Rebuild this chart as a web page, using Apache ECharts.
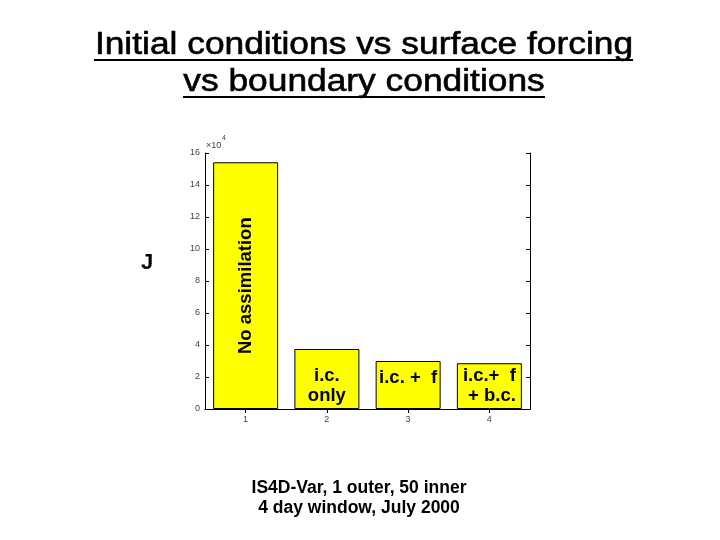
<!DOCTYPE html>
<html>
<head>
<meta charset="utf-8">
<script src="https://cdn.jsdelivr.net/npm/echarts@6/dist/echarts.min.js"></script>
<style>html,body{margin:0;padding:0;background:#fff;}#c{width:720px;height:540px;}</style>
</head>
<body>
<div id="c"></div>
<script>
var categories = ['1', '2', '3', '4'];
var jValues = [15.42, 3.75, 3.0, 2.86];
var barLabels = ['No assimilation', 'i.c.\nonly', 'i.c. +  f', 'i.c.+  f\n + b.c.'];
var yTicks = [0, 2, 4, 6, 8, 10, 12, 14, 16];
var titleLines = ['Initial conditions vs surface forcing', 'vs boundary conditions'];
var footLines = ['IS4D-Var, 1 outer, 50 inner', '4 day window, July 2000'];

var chart = echarts.init(document.getElementById('c'), null, {renderer: 'canvas'});

var labelStyles = [
  {show: true, position: 'inside', rotate: 90, fontSize: 18.5, fontWeight: 'bold', color: '#000', fontFamily: 'Liberation Sans'},
  {show: true, position: 'insideBottom', distance: 3, fontSize: 18.5, fontWeight: 'bold', color: '#000', lineHeight: 20, fontFamily: 'Liberation Sans'},
  {show: true, position: 'insideTop', distance: 7, fontSize: 18.5, fontWeight: 'bold', color: '#000', lineHeight: 20, fontFamily: 'Liberation Sans'},
  {show: true, position: 'insideBottom', distance: 3, fontSize: 18.5, fontWeight: 'bold', color: '#000', lineHeight: 20, align: 'center', fontFamily: 'Liberation Sans'}
];

var data = jValues.map(function (v, i) {
  var ls = Object.assign({}, labelStyles[i], {formatter: barLabels[i]});
  return {value: v, label: ls};
});

var axisFont = {fontSize: 9, color: '#444', fontFamily: 'Liberation Sans'};

var option = {
  animation: false,
  backgroundColor: '#fff',
  grid: {left: 205, right: 190, top: 153, bottom: 131},
  xAxis: [
    {type: 'category', data: categories, position: 'bottom',
     axisLine: {lineStyle: {color: '#000', width: 1}},
     axisTick: {show: true, inside: true, alignWithLabel: true, length: 4, lineStyle: {color: '#000'}},
     axisLabel: Object.assign({margin: 6}, axisFont)},
    {type: 'category', data: categories, position: 'top',
     axisLine: {show: true, lineStyle: {color: '#000', width: 1}},
     axisTick: {show: true, inside: true, alignWithLabel: true, length: 4, lineStyle: {color: '#000'}},
     axisLabel: {show: false}}
  ],
  yAxis: [
    {type: 'value', min: 0, max: 16, interval: 2, position: 'left',
     axisLine: {show: true, lineStyle: {color: '#000', width: 1}},
     axisTick: {show: true, inside: true, length: 4, lineStyle: {color: '#000'}},
     splitLine: {show: false},
     axisLabel: Object.assign({margin: 5, formatter: function (v) { return yTicks.indexOf(v) >= 0 ? String(v) : ''; }}, axisFont)},
    {type: 'value', min: 0, max: 16, interval: 2, position: 'right',
     axisLine: {show: true, lineStyle: {color: '#000', width: 1}},
     axisTick: {show: true, inside: true, length: 4, lineStyle: {color: '#000'}},
     splitLine: {show: false},
     axisLabel: {show: false}}
  ],
  series: [{
    type: 'bar',
    data: data,
    barWidth: '80%',
    itemStyle: {color: '#ffff00', borderColor: '#000', borderWidth: 1}
  }],
  graphic: [
    {type: 'text', x: 364, y: 45, scaleX: 1.14, originX: 0, originY: 0,
     style: {text: titleLines[0], font: '31px "Liberation Sans"', fill: '#000', stroke: '#000', lineWidth: 0.6, align: 'center', verticalAlign: 'middle'}},
    {type: 'line', shape: {x1: 94, y1: 60, x2: 633, y2: 60}, style: {stroke: '#000', lineWidth: 2}},
    {type: 'text', x: 364, y: 82, scaleX: 1.14, originX: 0, originY: 0,
     style: {text: titleLines[1], font: '31px "Liberation Sans"', fill: '#000', stroke: '#000', lineWidth: 0.6, align: 'center', verticalAlign: 'middle'}},
    {type: 'line', shape: {x1: 183, y1: 97, x2: 545, y2: 97}, style: {stroke: '#000', lineWidth: 2}},
    {type: 'text', x: 147, y: 263,
     style: {text: 'J', font: 'bold 22px "Liberation Sans"', fill: '#000', align: 'center', verticalAlign: 'middle'}},
    {type: 'text', x: 206, y: 146,
     style: {text: '\u00d710', font: '9px "Liberation Sans"', fill: '#444', align: 'left', verticalAlign: 'middle'}},
    {type: 'text', x: 222, y: 138,
     style: {text: '4', font: '7px "Liberation Sans"', fill: '#444', align: 'left', verticalAlign: 'middle'}},
    {type: 'text', x: 359, y: 488,
     style: {text: footLines[0], font: 'bold 17.5px "Liberation Sans"', fill: '#000', align: 'center', verticalAlign: 'middle'}},
    {type: 'text', x: 359, y: 508,
     style: {text: footLines[1], font: 'bold 17.5px "Liberation Sans"', fill: '#000', align: 'center', verticalAlign: 'middle'}}
  ]
};
chart.setOption(option);
</script>
</body>
</html>
